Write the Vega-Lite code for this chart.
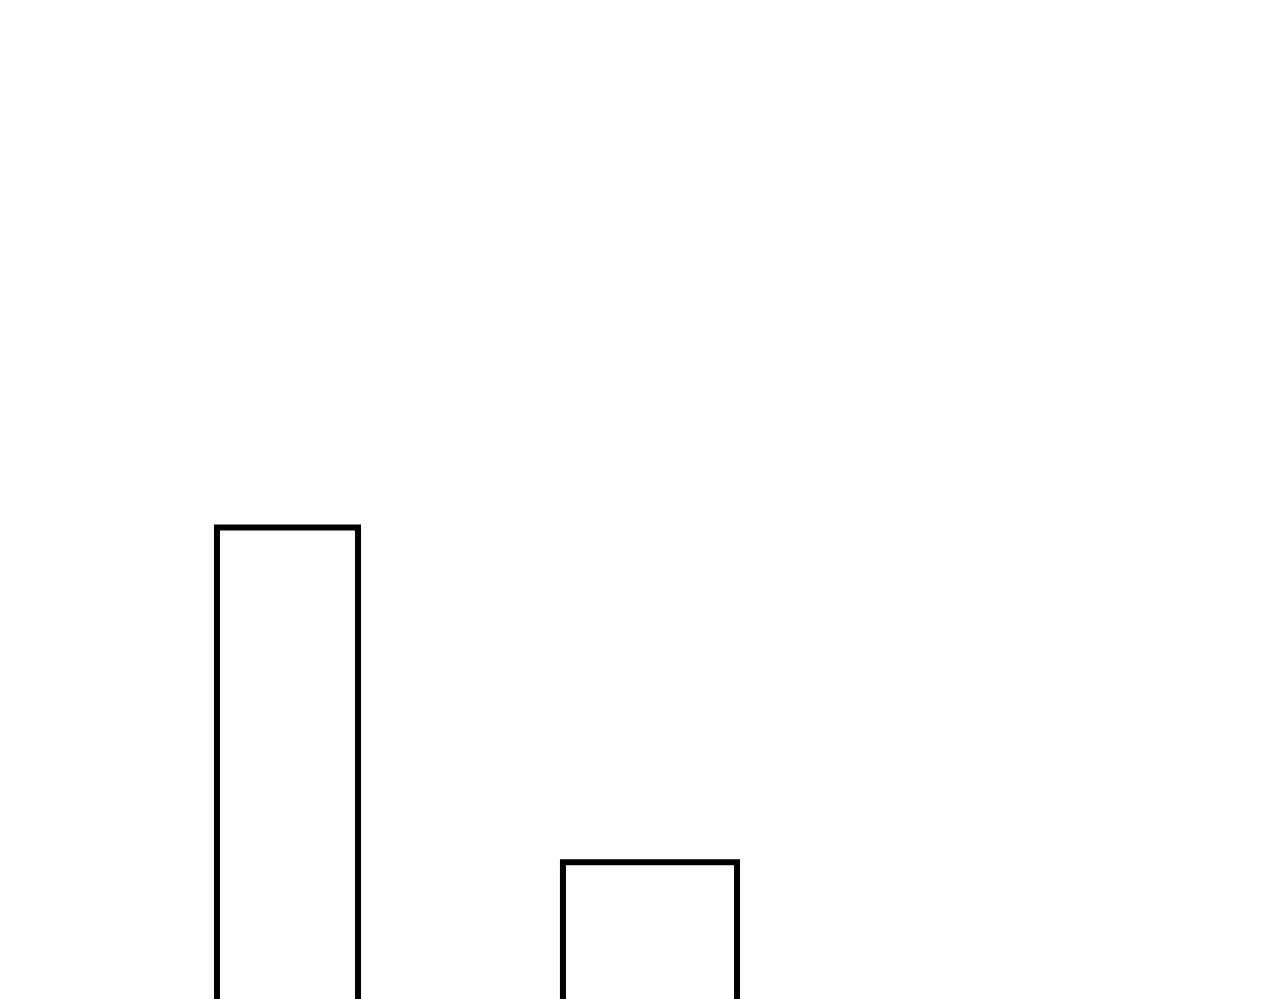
{
  "$schema": "https://vega.github.io/schema/vega-lite/v6.json",
  "autosize": {"type": "none"},
  "width": 1280,
  "height": 999,
  "padding": 0,
  "background": "white",
  "config": {"view": {"stroke": null}},
  "data": {
    "values": [
      {"start": 1.695, "end": 2.797, "value": 47.2, "base": -3},
      {"start": 4.398, "end": 5.758, "value": 13.7, "base": -3}
    ]
  },
  "mark": {"type": "bar", "fill": "white", "stroke": "black", "strokeWidth": 6, "strokeJoin": "miter"},
  "encoding": {
    "x": {"field": "start", "type": "quantitative", "scale": {"domain": [0, 10], "nice": false, "zero": false}, "axis": null},
    "x2": {"field": "end"},
    "y": {"field": "value", "type": "quantitative", "scale": {"domain": [0, 100], "nice": false}, "axis": null},
    "y2": {"field": "base"}
  }
}
